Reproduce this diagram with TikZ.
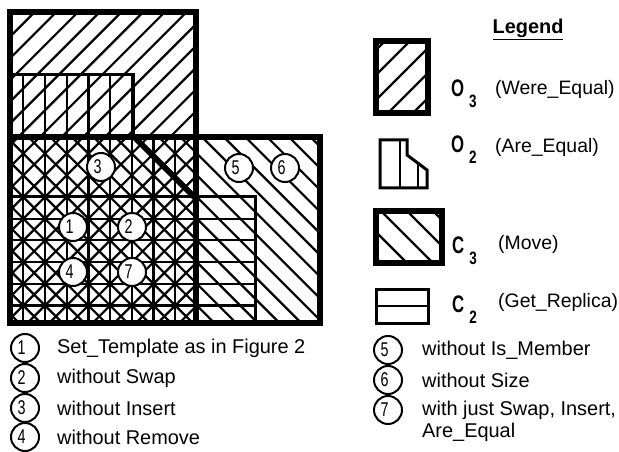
\documentclass[tikz,border=0pt]{standalone}
\usepackage{fontspec}
\setmainfont{Liberation Sans}
\usetikzlibrary{positioning}

% numbers in the small circles, narrow and pushed left
\newcommand{\numtxt}[1]{\makebox[15bp][l]{\scalebox{.72}[1]{#1}}}
% legend symbol with its lowered index
\newcommand{\symlab}[2]{\scalebox{.7}[1]{\fontsize{24}{24}\selectfont\bfseries #1}\hspace{5bp}\raisebox{-11bp}{\scalebox{.75}[1]{\fontsize{18}{18}\selectfont\bfseries #2}}}

\begin{document}
\begin{tikzpicture}[
    x=1bp, y=-1bp,
    hatch/.style={line width=2.2bp},
    thickedge/.style={draw=black, line width=6.5bp, line join=miter},
    thinedge/.style={draw=black, line width=3bp},
    numdot/.style={circle, draw, fill=white, line width=2bp, minimum size=28bp, inner sep=0pt, font=\fontsize{20}{20}\selectfont},
    itemtext/.style={inner sep=1bp, font=\fontsize{20}{24}\selectfont},
    desctext/.style={inner sep=0pt, font=\fontsize{19.5}{23}\selectfont}
  ]
    \useasboundingbox (0,0) rectangle (619,452);

    % O3 (diagonal /)
    \begin{scope}
      \clip (10,12) rectangle (196,323);
      \foreach \k in {-12,...,14}
        \draw[hatch] ({242+21.7*\k-460},460) -- ({242+21.7*\k},0);
    \end{scope}

    % C3 (diagonal \)
    \begin{scope}
      \clip (10,137) rectangle (320,323);
      \foreach \k in {-6,...,19}
        \draw[hatch] ({-195.4+21.7*\k},0) -- ({-195.4+21.7*\k+460},460);
    \end{scope}

    % O2 (verticals)
    \begin{scope}
      \clip (10,75) rectangle (133,137) (10,137) rectangle (196,323);
      \foreach \k in {1,...,8}
        \draw[hatch] ({1.6+21.7*\k},0) -- ({1.6+21.7*\k},330);
    \end{scope}

    % C2 (horizontals)
    \begin{scope}
      \clip (10,197) rectangle (255,323);
      \foreach \k in {1,...,6}
        \draw[hatch] (0,{197+21.7*\k}) -- (260,{197+21.7*\k});
    \end{scope}

    % outlines
    \draw[thinedge] (10,75) -- (133,75) -- (133,137);
    \draw[thinedge, line width=4bp] (133,137) -- (196,200);
    \draw[thinedge] (10,197) rectangle (255,323);
    \draw[thickedge] (10,12) rectangle (196,323);
    \draw[thickedge] (10,137) rectangle (320,323);

    % numbered spots
    \node[numdot] (m3) at (101,167) {\numtxt{3}};
    \node[numdot] (m5) at (239,168) {\numtxt{5}};
    \node[numdot] (m6) at (285,168) {\numtxt{6}};
    \node[numdot] (m1) at (73,227) {\numtxt{1}};
    \node[numdot] (m2) at (132,227) {\numtxt{2}};
    \node[numdot] (m4) at (73,272) {\numtxt{4}};
    \node[numdot] (m7) at (132,272) {\numtxt{7}};

    % Legend
    \node[desctext, font=\fontsize{20}{20}\selectfont\bfseries, anchor=base] (legend) at (528,34) {\underline{Legend}};

    \begin{scope}
      \clip (376,41) rectangle (428,113);
      \foreach \k in {0,...,8}
        \draw[hatch] ({376+25*\k-120},120) -- ({376+25*\k},0);
    \end{scope}
    \draw[thickedge] (376,41) rectangle (428,113);
    \node[desctext, anchor=base west] (o3lab) at (451,97) {\symlab{O}{3}};
    \node[desctext, anchor=base west] (o3desc) at (495,95) {(Were\_Equal)};

    \draw[thinedge, line join=miter] (380,140) -- (407,140) -- (407,155) -- (427,170) -- (427,188) -- (380,188) -- cycle;
    \draw[thinedge, line width=2.5bp] (400,140) -- (400,188);
    \draw[thinedge, line width=2.5bp] (418,163) -- (418,188);
    \node[desctext, anchor=base west] (o2lab) at (451,153) {\symlab{O}{2}};
    \node[desctext, anchor=base west] (o2desc) at (495,153) {(Are\_Equal)};

    \begin{scope}
      \clip (376,211) rectangle (442,263);
      \foreach \k in {-4,...,4}
        \draw[hatch] ({376+26*\k},180) -- ({376+26*\k+120},300);
    \end{scope}
    \draw[thickedge] (376,211) rectangle (442,263);
    \node[desctext, anchor=base west] (c3lab) at (452,254) {\symlab{C}{3}};
    \node[desctext, anchor=base west] (c3desc) at (498,250) {(Move)};

    \draw[thinedge] (376,289) rectangle (428,323);
    \draw[thinedge, line width=2.5bp] (376,306) -- (428,306);
    \node[desctext, anchor=base west] (c2lab) at (452,312) {\symlab{C}{2}};
    \node[desctext, anchor=base west] (c2desc) at (498,308) {(Get\_Replica)};

    % key, left column
    \node[numdot] (l1) at (25,348) {\numtxt{1}};
    \node[numdot] (l2) at (25,378) {\numtxt{2}};
    \node[numdot] (l3) at (25,408) {\numtxt{3}};
    \node[numdot] (l4) at (25,437) {\numtxt{4}};
    \node[itemtext, right=16bp of l1] (t1) {Set\_Template as in Figure 2};
    \node[itemtext, right=16bp of l2] (t2) {without Swap};
    \node[itemtext, right=16bp of l3] (t3) {without Insert};
    \node[itemtext, right=16bp of l4] (t4) {without Remove};

    % key, right column
    \node[numdot] (r5) at (388,350) {\numtxt{5}};
    \node[numdot] (r6) at (388,380) {\numtxt{6}};
    \node[numdot] (r7) at (388,410) {\numtxt{7}};
    \node[itemtext, right=18bp of r5] (t5) {without Is\_Member};
    \node[itemtext, right=18bp of r6] (t6) {without Size};
    \node[itemtext, right=18bp of r7] (t7) {with just Swap, Insert,};
    \node[itemtext, below=1bp of t7.south west, anchor=north west] (t7b) {Are\_Equal};
  \end{tikzpicture}
\end{document}
